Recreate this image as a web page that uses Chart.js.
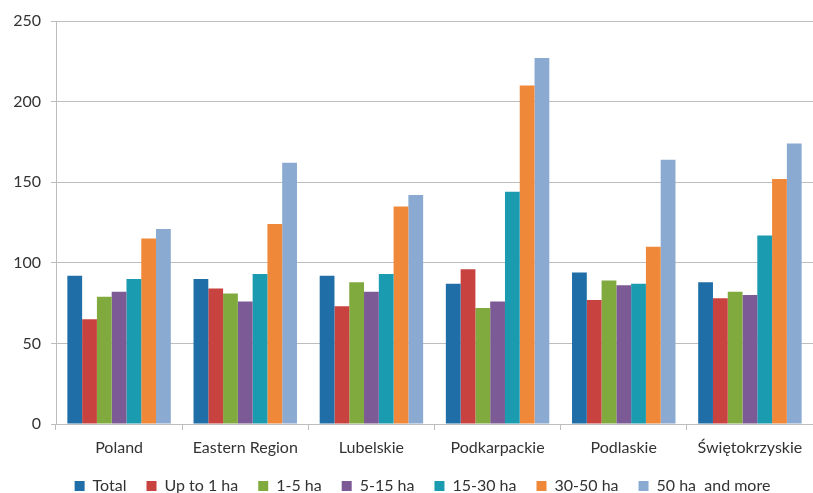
<!DOCTYPE html>
<html>
<head>
<meta charset="utf-8">
<script src="https://cdn.jsdelivr.net/npm/chart.js@4/dist/chart.umd.min.js"></script>
<style>
  html, body { margin: 0; padding: 0; background: #ffffff; }
  #wrap { width: 813px; height: 493px; position: relative; }
</style>
</head>
<body>
<div id="wrap"><canvas id="chart" width="813" height="493"></canvas></div>
<script>
// Index values by farm size group, per region
const categories = ['Poland', 'Eastern Region', 'Lubelskie', 'Podkarpackie', 'Podlaskie', 'Świętokrzyskie'];
const seriesNames = ['Total', 'Up to 1 ha', '1-5 ha', '5-15 ha', '15-30 ha', '30-50 ha', '50 ha  and more'];

const total   = [92, 90, 92, 87, 94, 88];
const upTo1   = [65, 84, 73, 96, 77, 78];
const ha1to5  = [79, 81, 88, 72, 89, 82];
const ha5to15 = [82, 76, 82, 76, 86, 80];
const ha15to30 = [90, 93, 93, 144, 87, 117];
const ha30to50 = [115, 124, 135, 210, 110, 152];
const ha50plus = [121, 162, 142, 227, 164, 174];

const yTicks = [0, 50, 100, 150, 200, 250];

const seriesValues = [total, upTo1, ha1to5, ha5to15, ha15to30, ha30to50, ha50plus];
const seriesColors = ['#1f6ea8', '#c8433f', '#80aa3e', '#7b5a96', '#1b9bb0', '#f0883a', '#8aaad2'];

const FONT = 'Lato, "Open Sans", "Liberation Sans", sans-serif';
const TEXT = '#333333';
const GRID = '#bdbdbd';

const datasets = seriesNames.map((name, i) => ({
  label: name,
  data: seriesValues[i],
  backgroundColor: seriesColors[i],
  borderWidth: 0,
  categoryPercentage: 0.82,
  barPercentage: 1.0
}));

// Centre the legend row under the plot area rather than the whole canvas
const legendShift = {
  id: 'legendShift',
  afterLayout(chart) {
    if (chart.legend) chart.legend.left += 32;
  }
};

new Chart(document.getElementById('chart'), {
  type: 'bar',
  data: { labels: categories, datasets },
  plugins: [legendShift],
  options: {
    responsive: false,
    animation: false,
    layout: { padding: { top: 21, right: 0, left: 0, bottom: -11 } },
    plugins: {
      tooltip: { enabled: false },
      legend: {
        position: 'bottom',
        align: 'center',
        labels: {
          boxWidth: 10,
          boxHeight: 10,
          padding: 20,
          color: TEXT,
          font: { family: FONT, size: 16 }
        }
      }
    },
    scales: {
      x: {
        offset: true,
        grid: {
          offset: true,
          drawOnChartArea: false,
          drawTicks: true,
          tickLength: 6,
          color: GRID
        },
        border: { color: GRID, width: 1 },
        ticks: {
          color: TEXT,
          font: { family: FONT, size: 16 },
          padding: 8,
          maxRotation: 0
        },
        afterFit: (scale) => { scale.height = 34; }
      },
      y: {
        min: 0,
        max: 250,
        afterBuildTicks: (scale) => { scale.ticks = yTicks.map(v => ({ value: v })); },
        grid: {
          color: GRID,
          tickLength: 5,
          lineWidth: 1
        },
        border: { color: GRID, width: 1 },
        ticks: {
          color: TEXT,
          font: { family: FONT, size: 16 },
          padding: 10
        },
        afterFit: (scale) => { scale.width = 56; }
      }
    }
  }
});
</script>
</body>
</html>
